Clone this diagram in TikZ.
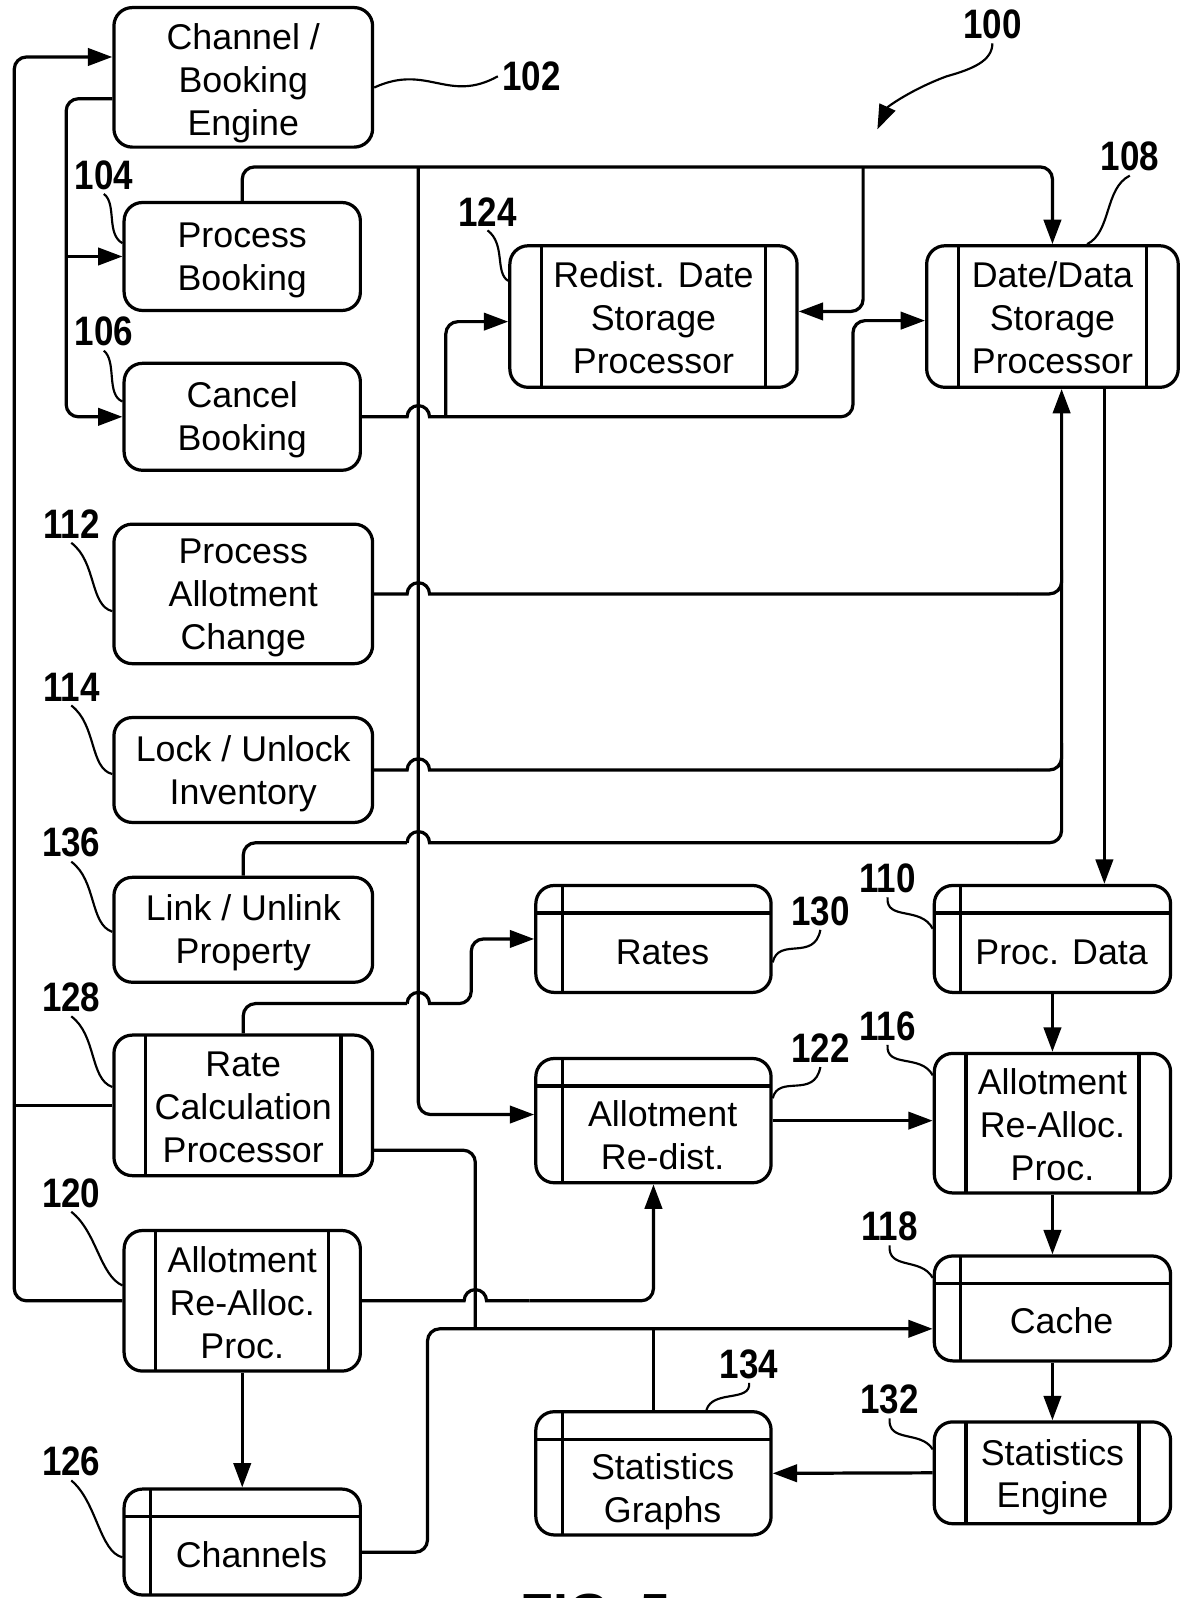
\documentclass[tikz,border=0pt]{standalone}
\usepackage{fontspec}
\setmainfont{Liberation Sans}
\newfontfamily\numfont{Liberation Sans}[FakeStretch=0.85]
\usetikzlibrary{positioning,calc,arrows.meta}

% box texts, lowered a little; store texts sit below the header line
\newcommand{\btxt}[2][0.04cm]{\raisebox{-#1}[\height][\depth]{\begin{tabular}{@{}c@{}}#2\end{tabular}}}
\newcommand{\stxt}[2][0.165cm]{\hspace*{0.18cm}\raisebox{-#1}[\height][\depth]{\begin{tabular}{@{}c@{}}#2\end{tabular}}}

\begin{document}
\begin{tikzpicture}[x=0.01cm, y=-0.01cm]
        % Styles: plain box, processor box, store box
        \tikzstyle{box} = [
            draw,
            line width=0.9pt,
            rounded corners=0.18cm,
            minimum width=2.32cm,
            minimum height=1.04cm,
            inner sep=0pt,
            align=center,
            font=\fontsize{10}{12}\selectfont
        ]
        \tikzstyle{proc} = [box, path picture={
            \draw[line width=0.9pt] ([xshift=0.31cm]path picture bounding box.north west) -- ([xshift=0.31cm]path picture bounding box.south west);
            \draw[line width=0.9pt] ([xshift=-0.31cm]path picture bounding box.north east) -- ([xshift=-0.31cm]path picture bounding box.south east);}]
        \tikzstyle{store} = [box, path picture={
            \draw[line width=0.9pt] ([yshift=-0.27cm]path picture bounding box.north west) -- ([yshift=-0.27cm]path picture bounding box.north east);
            \draw[line width=0.9pt] ([xshift=0.26cm]path picture bounding box.north west) -- ([xshift=0.26cm]path picture bounding box.south west);}]
        \tikzstyle{wire} = [line width=0.9pt]
        \tikzstyle{link} = [wire, rounded corners=0.12cm]
        \tikzstyle{arr} = [link, -{Triangle[length=0.24cm, width=0.17cm]}]
        \tikzstyle{num} = [inner sep=1pt, font=\numfont\bfseries\fontsize{11.5}{13}\selectfont]
        \tikzstyle{lead} = [line width=0.6pt]

        \useasboundingbox (0,0) rectangle (1160,1570);

        % Left column
        \node[box, minimum width=2.54cm, minimum height=1.37cm] (engine) at (239,76) {\btxt[0.065cm]{Channel /\\Booking\\Engine}};
        \node[box, minimum height=1.06cm] (book) at (238,252) {\btxt{Process\\Booking}};
        \node[box, minimum height=1.05cm] (cancel) at (238,409.5) {\btxt{Cancel\\Booking}};
        \node[box, minimum width=2.54cm, minimum height=1.37cm] (allot) at (239,583.5) {\btxt{Process\\Allotment\\Change}};
        \node[box, minimum width=2.54cm, minimum height=1.03cm] (lock) at (239,756.5) {\btxt{Lock / Unlock\\Inventory}};
        \node[box, minimum width=2.54cm, minimum height=1.03cm] (link) at (239,913.5) {\btxt{Link / Unlink\\Property}};
        \node[proc, minimum width=2.54cm, minimum height=1.38cm] (ratecalc) at (239,1086) {\btxt[0.055cm]{Rate\\Calculation\\Processor}};
        \node[proc, minimum height=1.38cm] (allocproc) at (238,1278) {\btxt[0.06cm]{Allotment\\Re-Alloc.\\Proc.}};
        \node[store, minimum height=1.04cm] (channels) at (238,1515) {\stxt{Channels}};

        % Middle column
        \node[proc, minimum width=2.82cm, minimum height=1.39cm] (redist) at (642,311) {\btxt[0.055cm]{Redist. Date\\Storage\\Processor}};
        \node[store, minimum width=2.31cm, minimum height=1.05cm] (rates) at (642,922.5) {\stxt{Rates}};
        \node[store, minimum width=2.31cm, minimum height=1.22cm] (allotdist) at (642,1101) {\stxt[0.18cm]{Allotment\\Re-dist.}};
        \node[store, minimum width=2.31cm, minimum height=1.21cm] (graphs) at (642,1447.5) {\stxt[0.19cm]{Statistics\\Graphs}};

        % Right column
        \node[proc, minimum width=2.47cm, minimum height=1.39cm] (datastore) at (1034,311) {\btxt[0.055cm]{Date/Data\\Storage\\Processor}};
        \node[store, minimum height=1.05cm] (procdata) at (1034,922.5) {\stxt{Proc. Data}};
        \node[proc, minimum height=1.37cm] (realloc) at (1034,1103.5) {\btxt[0.055cm]{Allotment\\Re-Alloc.\\Proc.}};
        \node[store, minimum height=1.03cm] (cache) at (1034,1285.5) {\stxt{Cache}};
        \node[proc, minimum height=1.0cm] (stats) at (1034,1447) {\btxt[0.05cm]{Statistics\\Engine}};

        % Engine to the booking boxes
        \draw[arr] ([yshift=-0.21cm]engine.west) -- (65,97) |- (cancel.west);
        \draw[arr] (65,252) -- (book.west);

        % Outer loop back to the engine
        \draw[arr] (allocproc.west) -- (14,1278) |- ([yshift=0.2cm]engine.west);
        \draw[link] (ratecalc.west) -- (14,1086);

        % Top bus from Process Booking
        \draw[arr] (book.north) -- (238,164) -| (datastore.north);
        \draw[arr] (411,164) |- ([yshift=0.06cm]allotdist.west);
        \draw[arr] (848,164) |- ([yshift=0.05cm]redist.east);

        % Cancel Booking to both storage processors (hop over the bus)
        \draw[wire] (cancel.east) -- (400,409.5) arc[start angle=180, end angle=360, radius=11] -- (438,409.5);
        \draw[arr] (438,409.5) -- (838,409.5) |- ([yshift=-0.04cm]datastore.west);
        \draw[arr] (438,409.5) |- ([yshift=-0.05cm]redist.west);

        % Allotment change, lock and link into the storage processor
        \draw[wire] (allot.east) -- (400,583.5) arc[start angle=180, end angle=360, radius=11] -- (1000,583.5);
        \draw[link] (1000,583.5) -- (1043,583.5) -- (1043,560);
        \draw[wire] (lock.east) -- (400,756.5) arc[start angle=180, end angle=360, radius=11] -- (1000,756.5);
        \draw[link] (1000,756.5) -- (1043,756.5) -- (1043,730);
        \draw[link] (link.north) -- (239,828) -- (400,828);
        \draw[wire] (400,828) arc[start angle=180, end angle=360, radius=11] -- (1000,828);
        \draw[arr] (1000,828) -- (1043,828) -- ([xshift=0.09cm]datastore.south);

        % Right column flow
        \draw[arr] ([xshift=0.51cm]datastore.south) -- ([xshift=0.51cm]datastore.south |- procdata.north);
        \draw[arr] (procdata.south) -- (realloc.north);
        \draw[arr] (realloc.south) -- (cache.north);
        \draw[arr] (cache.south) -- (stats.north);
        \draw[arr] (stats.west) -- (graphs.east);
        \draw[arr] (allotdist.east) -- (allotdist.east -| realloc.west);

        % Rate calculation
        \draw[link] (ratecalc.north) -- (239,986) -- (400,986);
        \draw[wire] (400,986) arc[start angle=180, end angle=360, radius=11] -- (440,986);
        \draw[arr] (440,986) -- (463,986) |- (rates.west);
        \draw[link] ([yshift=-0.44cm]ratecalc.east) -| (467,1306);

        % Allotment re-alloc on the left
        \draw[wire] (allocproc.east) -- (456,1278) arc[start angle=180, end angle=360, radius=11] -- (520,1278);
        \draw[arr] (520,1278) -| (allotdist.south);
        \draw[arr] (allocproc.south) -- (channels.north);

        % Channels to cache, branch to graphs
        \draw[arr] ([yshift=-0.1cm]channels.east) -- (420,1525) |- ([yshift=-0.2cm]cache.west);
        \draw[link] (graphs.north |- 0,1305.5) -- (graphs.north);

        % Reference numbers
        \node[num] (n100) at (975,24) {100};
        \node[num] (n102) at (522,75) {102};
        \node[num] (n104) at (102,172) {104};
        \node[num] (n106) at (102,326) {106};
        \node[num] (n124) at (479,208) {124};
        \node[num] (n108) at (1110,154) {108};
        \node[num] (n112) at (70,515) {112};
        \node[num] (n114) at (70,675) {114};
        \node[num] (n136) at (70,828) {136};
        \node[num] (n128) at (70,980) {128};
        \node[num] (n120) at (70,1172) {120};
        \node[num] (n126) at (70,1436) {126};
        \node[num] (n130) at (806,895) {130};
        \node[num] (n110) at (872,863) {110};
        \node[num] (n122) at (806,1030) {122};
        \node[num] (n116) at (872,1008) {116};
        \node[num] (n118) at (874,1205) {118};
        \node[num] (n134) at (736,1340) {134};
        \node[num] (n132) at (874,1375) {132};

        % Leader lines
        \draw[lead, -{Triangle[length=0.24cm, width=0.17cm]}] (n100.south) .. controls (975,60) and (955,68) .. (930,75) .. controls (895,88) and (872,105) .. (862,127);
        \draw[lead] ([yshift=-0.1cm]engine.east) .. controls (420,62) and (440,102) .. (n102.west);
        \draw[lead] (n104.south) .. controls (115,200) and (104,230) .. ([yshift=0.13cm]book.west);
        \draw[lead] (n106.south) .. controls (115,355) and (104,388) .. ([yshift=0.15cm]cancel.west);
        \draw[lead] (n124.south) .. controls (497,240) and (486,268) .. ([yshift=0.35cm]redist.west);
        \draw[lead] (n108.south) .. controls (1085,185) and (1092,228) .. ([xshift=0.34cm]datastore.north);
        \draw[lead] (n112.south) .. controls (95,552) and (88,595) .. ([yshift=-0.17cm]allot.west);
        \draw[lead] (n114.south) .. controls (95,712) and (88,755) .. ([yshift=-0.04cm]lock.west);
        \draw[lead] (n136.south) .. controls (95,865) and (88,908) .. ([yshift=-0.02cm]link.west);
        \draw[lead] (n128.south) .. controls (95,1017) and (88,1060) .. ([yshift=0.18cm]ratecalc.west);
        \draw[lead] (n120.south) .. controls (95,1210) and (98,1253) .. ([yshift=0.15cm]allocproc.west);
        \draw[lead] (n126.south) .. controls (95,1475) and (98,1525) .. ([yshift=-0.15cm]channels.west);
        \draw[lead] (n130.south) .. controls (800,945) and (765,920) .. ([yshift=-0.23cm]rates.east);
        \draw[lead] (n110.south) .. controls (870,905) and (905,890) .. ([yshift=0.1cm]procdata.west);
        \draw[lead] (n122.south) .. controls (800,1080) and (765,1055) .. ([yshift=0.22cm]allotdist.east);
        \draw[lead] (n116.south) .. controls (870,1050) and (905,1035) .. ([yshift=0.47cm]realloc.west);
        \draw[lead] (n118.south) .. controls (872,1248) and (905,1235) .. ([yshift=0.3cm]cache.west);
        \draw[lead] (n132.south) .. controls (872,1418) and (905,1405) .. ([yshift=0.23cm]stats.west);
        \draw[lead] (n134.south) .. controls (738,1378) and (700,1365) .. ([xshift=0.52cm]graphs.north);

        % Figure title, cut by the page edge as in the drawing
        \node[anchor=north, inner sep=0pt, font=\bfseries\fontsize{15}{18}\selectfont] (fig) at (585,1565.5) {FIG. 5};
\end{tikzpicture}
\end{document}
